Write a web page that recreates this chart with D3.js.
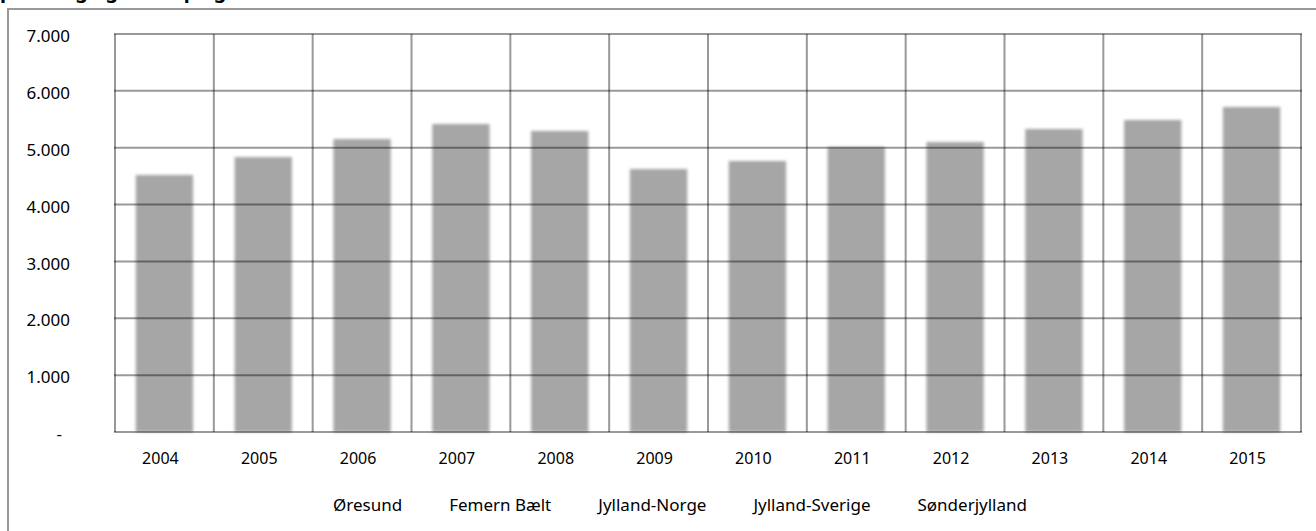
<!DOCTYPE html>
<html><head><meta charset="utf-8">
<script src="https://cdn.jsdelivr.net/npm/d3@7"></script>
<style>body{margin:0;background:#fff;overflow:hidden}</style></head>
<body><svg id="c" width="1316" height="531"></svg>
<script>
const years = ["2004","2005","2006","2007","2008","2009","2010","2011","2012","2013","2014","2015"];
const totals = [4520,4836,5153,5417,5294,4625,4766,5012,5100,5329,5487,5716];
const seriesNames = ["Øresund","Femern Bælt","Jylland-Norge","Jylland-Sverige","Sønderjylland"];
const yTicks = [0,1000,2000,3000,4000,5000,6000,7000];
const yTickLabels = ["-","1.000","2.000","3.000","4.000","5.000","6.000","7.000"];
const titleText = "pendling og trafik på grænserne";

const svg = d3.select("#c");
const font = "'Noto Sans', sans-serif";
const L = 115, R = 1301, T = 34, B = 432;

const x = d3.scaleBand().domain(years).range([L, R]).paddingInner(0.42).paddingOuter(0.21);
const y = d3.scaleLinear().domain([0, 7000]).range([B, T]);

const defs = svg.append("defs");
defs.append("filter").attr("id","blur").attr("x","-20%").attr("y","-5%").attr("width","140%").attr("height","110%")
  .append("feGaussianBlur").attr("stdDeviation", 1.6);

// title (cropped at top edge as in the reference)
svg.append("text").attr("x", 0).attr("y", -2).attr("font-family", font).attr("font-weight", "bold")
  .attr("font-size", 20).attr("fill", "#000").text(titleText);

// outer frame
svg.append("path").attr("d", `M8,531 V9 H1316`).attr("fill","none").attr("stroke","#999").attr("stroke-width",2);

// bars
svg.append("g").attr("filter","url(#blur)").selectAll("rect").data(years).join("rect")
  .attr("x", d => x(d)).attr("width", x.bandwidth())
  .attr("y", (d,i) => y(totals[i])).attr("height", (d,i) => y(0) - y(totals[i]))
  .attr("fill", "#a6a6a6");

// vertical category lines
const step = x.step();
svg.append("g").selectAll("line").data(d3.range(years.length + 1)).join("line")
  .attr("x1", i => L + i * step).attr("x2", i => L + i * step)
  .attr("y1", T).attr("y2", B).attr("stroke", "#999").attr("stroke-width", 2);

// horizontal gridlines (over bars)
svg.append("g").selectAll("line").data(yTicks).join("line")
  .attr("x1", L - 1).attr("x2", R + 1).attr("y1", d => y(d)).attr("y2", d => y(d))
  .attr("stroke", "rgba(0,0,0,0.4)").attr("stroke-width", 2);

// y axis
const ya = svg.append("g").attr("transform", `translate(${L},0)`)
  .call(d3.axisLeft(y).tickValues(yTicks).tickSize(0).tickPadding(45).tickFormat((d,i) => yTickLabels[i]));
ya.select(".domain").remove();
ya.selectAll("text").attr("font-family", font).attr("font-size", 17).attr("fill", "#000").attr("dy", "0.45em");
ya.selectAll(".tick").filter(d => d === 0).select("text").attr("x", -53);

// x axis
const xa = svg.append("g").attr("transform", `translate(0,${B})`)
  .call(d3.axisBottom(x).tickSize(0).tickPadding(21));
xa.select(".domain").remove();
xa.selectAll("text").attr("font-family", font).attr("font-size", 16).attr("fill", "#000").attr("dx", -4);

// legend
const lg = svg.append("g");
let lx = 333;
seriesNames.forEach(n => {
  const t = lg.append("text").attr("x", lx).attr("y", 511).attr("font-family", font).attr("font-size", 17).attr("fill", "#000").text(n);
  lx += t.node().getComputedTextLength() + 47;
});
</script></body></html>
